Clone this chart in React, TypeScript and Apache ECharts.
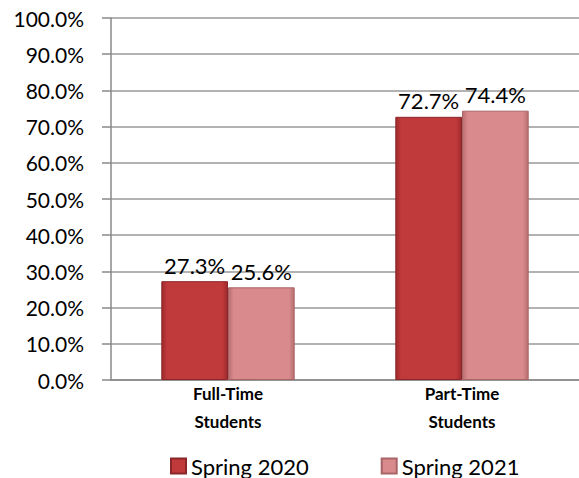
import React, { useEffect, useRef } from "react";
import * as echarts from "echarts";

const categories = ["Full-Time\nStudents", "Part-Time\nStudents"];
const spring2020 = [0.273, 0.727];
const spring2021 = [0.256, 0.744];
const seriesNames = ["Spring 2020", "Spring 2021"];

const FONT = "Lato, 'Open Sans', sans-serif";

function grad(mid: string, dark: string) {
  return new echarts.graphic.LinearGradient(0, 0, 1, 0, [
    { offset: 0, color: dark },
    { offset: 0.08, color: mid },
    { offset: 0.92, color: mid },
    { offset: 1, color: dark },
  ]);
}

export default function App() {
  const ref = useRef<HTMLDivElement>(null);
  useEffect(() => {
    const chart = echarts.init(ref.current!, null, { renderer: "svg" });
    const label = {
      show: true,
      position: "top",
      distance: 5,
      color: "#000",
      fontSize: 22,
      fontFamily: FONT,
      formatter: (p: any) => (p.value * 100).toFixed(1) + "%",
    };
    chart.setOption({
      animation: false,
      grid: { left: 111, right: 0, top: 18, bottom: 98, containLabel: false },
      legend: {
        top: 455,
        left: 170,
        padding: 0,
        itemGap: 72,
        itemWidth: 15,
        itemHeight: 15,
        icon: "rect",
        textStyle: { fontSize: 22, fontFamily: FONT, color: "#000" },
        data: seriesNames,
      },
      xAxis: {
        type: "category",
        data: categories,
        axisLine: { lineStyle: { color: "#888", width: 1.5 } },
        axisTick: { show: false },
        axisLabel: {
          fontSize: 17,
          fontWeight: "bold",
          fontFamily: FONT,
          color: "#000",
          lineHeight: 28,
          margin: -1,
        },
      },
      yAxis: {
        type: "value",
        min: 0,
        max: 1,
        interval: 0.1,
        axisLine: { show: true, lineStyle: { color: "#888", width: 1.5 } },
        axisTick: { show: true, length: 9, lineStyle: { color: "#888", width: 1.5 } },
        splitLine: { lineStyle: { color: "#999", width: 1.5 } },
        axisLabel: {
          fontSize: 21,
          fontFamily: FONT,
          color: "#000",
          margin: 27,
          formatter: (v: number) => (v * 100).toFixed(1) + "%",
        },
      },
      series: [
        {
          name: seriesNames[0],
          type: "bar",
          data: spring2020,
          barGap: "0%",
          barCategoryGap: "43%",
          itemStyle: {
            color: grad("#c0393b", "#9e2a2c"),
            borderColor: "#8a2628",
            borderWidth: 1,
          },
          label,
        },
        {
          name: seriesNames[1],
          type: "bar",
          data: spring2021,
          barGap: "0%",
          barCategoryGap: "43%",
          itemStyle: {
            color: grad("#d98a8c", "#b86e70"),
            borderColor: "#a86466",
            borderWidth: 1,
          },
          label,
        },
      ],
    });
    return () => chart.dispose();
  }, []);
  return (
    <div
      ref={ref}
      style={{ position: "fixed", left: 0, top: 0, width: 579, height: 478, background: "#fff" }}
    />
  );
}
